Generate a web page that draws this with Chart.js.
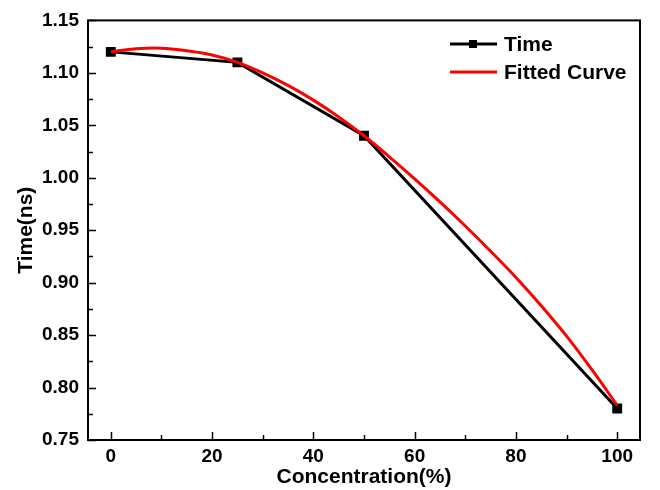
<!DOCTYPE html>
<html>
<head>
<meta charset="utf-8">
<script src="https://cdn.jsdelivr.net/npm/chart.js@4/dist/chart.umd.min.js"></script>
<style>
  html, body { margin: 0; padding: 0; background: #fff; }
  #wrap { width: 660px; height: 490px; }
</style>
</head>
<body>
<div id="wrap"><canvas id="myChart" width="660" height="490"></canvas></div>
<script>
// measured points
const concentration = [0, 25, 50, 100];
const timeNs = [1.12, 1.11, 1.04, 0.78];

// fitted curve
const fitX = [0, 5, 10, 15, 20, 25, 30, 35, 40, 45, 50, 55, 60, 65, 70, 75, 80, 85, 90, 95, 100];
const fitY = [1.120, 1.123, 1.1235, 1.121, 1.117, 1.110, 1.100, 1.088, 1.074, 1.058, 1.040,
              1.020, 0.999, 0.977, 0.954, 0.930, 0.905, 0.878, 0.849, 0.817, 0.783];

const xTicks = [0, 20, 40, 60, 80, 100];
const xMinor = [10, 30, 50, 70, 90];
const yTicks = [0.75, 0.80, 0.85, 0.90, 0.95, 1.00, 1.05, 1.10, 1.15];
const yMinor = [0.775, 0.825, 0.875, 0.925, 0.975, 1.025, 1.075, 1.125];

const FONT = "'Liberation Sans', Arial, sans-serif";

// frame + inward ticks + legend box
const framePlugin = {
	id: 'frame',
	afterDraw(chart) {
		const ctx = chart.ctx;
		const a = chart.chartArea;
		const xs = chart.scales.x, ys = chart.scales.y;
		ctx.save();
		ctx.strokeStyle = '#000';
		ctx.lineWidth = 1.5;
		xTicks.concat(xMinor).forEach(function(v) {
			const len = xTicks.indexOf(v) >= 0 ? 8 : 5;
			const px = Math.round(xs.getPixelForValue(v)) + 0.5;
			ctx.beginPath();
			ctx.moveTo(px, a.bottom); ctx.lineTo(px, a.bottom - len);
			ctx.stroke();
		});
		yTicks.concat(yMinor).forEach(function(v) {
			const len = yTicks.indexOf(v) >= 0 ? 8 : 5;
			const py = Math.round(ys.getPixelForValue(v)) + 0.5;
			ctx.beginPath();
			ctx.moveTo(a.left, py); ctx.lineTo(a.left + len, py);
			ctx.stroke();
		});
		ctx.lineWidth = 2;
		ctx.strokeRect(a.left, a.top, a.right - a.left, a.bottom - a.top);

		// legend
		const items = chart.data.datasets;
		ctx.font = 'bold 21px ' + FONT;
		ctx.textBaseline = 'middle';
		ctx.textAlign = 'left';
		items.forEach(function(ds, i) {
			const y = 44 + i * 28;
			ctx.strokeStyle = ds.borderColor;
			ctx.lineWidth = 3;
			ctx.beginPath();
			ctx.moveTo(450, y); ctx.lineTo(497, y);
			ctx.stroke();
			if (ds.pointRadius > 0) {
				ctx.fillStyle = ds.borderColor;
				ctx.fillRect(469, y - 4, 8, 8);
			}
			ctx.fillStyle = '#000';
			ctx.fillText(ds.label, 504, y + 1);
		});
		ctx.restore();
	}
};

new Chart(document.getElementById('myChart'), {
	type: 'scatter',
	data: {
		datasets: [{
			label: 'Time',
			data: concentration.map((c, i) => ({ x: c, y: timeNs[i] })),
			showLine: true,
			borderColor: '#000',
			backgroundColor: '#000',
			borderWidth: 3,
			pointStyle: 'rect',
			pointRadius: 7,
			pointBorderWidth: 0,
			tension: 0,
			order: 2
		}, {
			label: 'Fitted Curve',
			data: fitX.map((c, i) => ({ x: c, y: fitY[i] })),
			showLine: true,
			borderColor: '#ff0000',
			backgroundColor: '#ff0000',
			borderWidth: 3,
			pointRadius: 0,
			tension: 0.4,
			order: 1
		}]
	},
	plugins: [framePlugin],
	options: {
		responsive: false,
		animation: false,
		events: [],
		layout: { padding: { top: 18, right: 20, left: 0, bottom: 0 } },
		plugins: {
			legend: { display: false },
			tooltip: { enabled: false }
		},
		scales: {
			x: {
				type: 'linear',
				min: -4.5,
				max: 104.5,
				afterFit: s => { s.height = 50; },
				afterBuildTicks: s => { s.ticks = xTicks.map(v => ({ value: v })); },
				grid: { display: false, drawTicks: false },
				border: { display: false },
				ticks: {
					padding: 5,
					color: '#000',
					font: { family: FONT, size: 19, weight: 'bold' }
				},
				title: {
					display: true,
					text: 'Concentration(%)',
					color: '#000',
					padding: { top: 0, bottom: 0 },
					font: { family: FONT, size: 21, weight: 'bold' }
				}
			},
			y: {
				type: 'linear',
				min: 0.75,
				max: 1.15,
				afterFit: s => { s.width = 88; },
				afterBuildTicks: s => { s.ticks = yTicks.map(v => ({ value: v })); },
				grid: { display: false, drawTicks: false },
				border: { display: false },
				ticks: {
					padding: 9,
					color: '#000',
					font: { family: FONT, size: 19, weight: 'bold' },
					callback: v => v.toFixed(2)
				},
				title: {
					display: true,
					text: 'Time(ns)',
					color: '#000',
					padding: { top: 14, bottom: 0 },
					font: { family: FONT, size: 21, weight: 'bold' }
				}
			}
		}
	}
});
</script>
</body>
</html>
